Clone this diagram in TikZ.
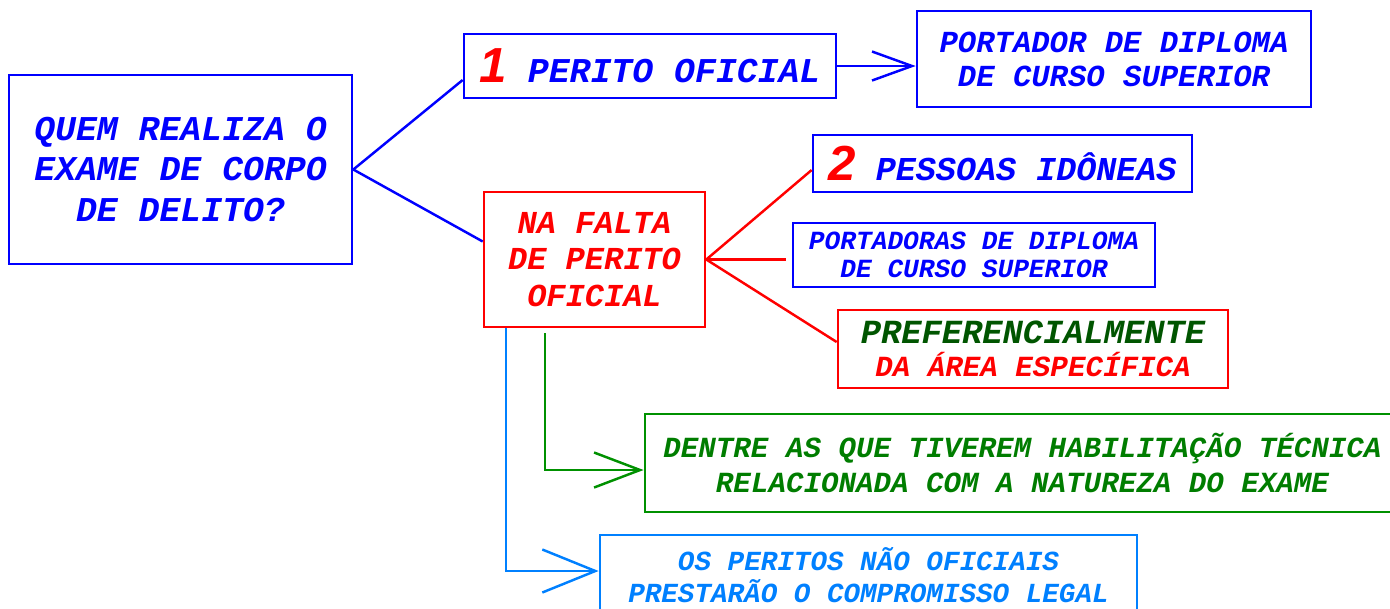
\documentclass[tikz,border=0pt]{standalone}
\usepackage{fontspec}
\usepackage{tikz}
\usepackage{xcolor}
\usetikzlibrary{arrows.meta}
\newfontfamily\cour{Liberation Mono}
\newfontfamily\arial{Liberation Sans}
\newcommand{\letra}{\cour\bfseries\itshape}
\newcommand{\numero}[1]{{\arial\bfseries\itshape\fontsize{14}{14}\selectfont\color{red}#1}}
\definecolor{verdeborda}{RGB}{0,145,0}
\definecolor{verdetexto}{RGB}{0,125,0}
\definecolor{verdeescuro}{RGB}{0,85,0}
\definecolor{celeste}{RGB}{0,128,255}
\tikzstyle{caixa} = [draw, rectangle, line width=0.7pt, align=center, inner sep=0pt]
\tikzstyle{ramo} = [line width=0.7pt]

\begin{document}
\begin{tikzpicture}[x=0.01cm, y=-0.01cm]
        \useasboundingbox (0,0) rectangle (1390,608);
        % pergunta
        \node [caixa, blue, minimum width=3.43cm, minimum height=1.89cm, font=\letra\fontsize{9.9}{11.4}\selectfont] (quem) at (180.5,169.5) {QUEM REALIZA O\\EXAME DE CORPO\\DE DELITO?};
        % primeira resposta
        \node [caixa, blue, minimum width=3.72cm, minimum height=0.64cm, font=\letra\fontsize{9.9}{11.4}\selectfont] (perito1) at (650,66) {\numero{1} PERITO OFICIAL};
        \node [caixa, blue, minimum width=3.94cm, minimum height=0.96cm, font=\letra\fontsize{8.7}{9.7}\selectfont] (portador) at (1114,59) {PORTADOR DE DIPLOMA\\DE CURSO SUPERIOR};
        % na falta
        \node [caixa, red, minimum width=2.21cm, minimum height=1.35cm, font=\letra\fontsize{9.1}{10.4}\selectfont] (falta) at (594.5,259.5) {NA FALTA\\DE PERITO\\OFICIAL};
        % segunda resposta
        \node [caixa, blue, minimum width=3.79cm, minimum height=0.57cm, font=\letra\fontsize{9.5}{11}\selectfont] (pessoas) at (1002.5,163.5) {\numero{2} PESSOAS IDÔNEAS};
        \node [caixa, blue, minimum width=3.62cm, minimum height=0.64cm, font=\letra\fontsize{7.45}{8}\selectfont] (portadoras) at (974,255) {PORTADORAS DE DIPLOMA\\DE CURSO SUPERIOR};
        \node [caixa, draw=red, minimum width=3.90cm, minimum height=0.78cm, font=\letra\fontsize{9.6}{9.4}\selectfont] (pref) at (1033,349) {\textcolor{verdeescuro}{PREFERENCIALMENTE}\\{\color{red}\fontsize{8.3}{9.4}\selectfont DA ÁREA ESPECÍFICA}};
        % habilitacao e compromisso
        \node [caixa, draw=verdeborda, text=verdetexto, minimum width=7.55cm, minimum height=0.98cm, font=\letra\fontsize{8.3}{9.7}\selectfont] (dentre) at (1022.5,463) {DENTRE AS QUE TIVEREM HABILITAÇÃO TÉCNICA\\RELACIONADA COM A NATUREZA DO EXAME};
        \node [caixa, celeste, minimum width=5.37cm, minimum height=0.80cm, font=\letra\fontsize{7.85}{9.1}\selectfont] (peritos) at (868.5,575) {OS PERITOS NÃO OFICIAIS\\PRESTARÃO O COMPROMISSO LEGAL};
        % ligacoes
        \draw [ramo, blue] (quem.east) -- ([yshift=-0.14cm]perito1.west);
        \draw [ramo, blue] (quem.east) -- ([yshift=0.18cm]falta.west);
        \draw [ramo, blue, -{Straight Barb[length=4mm,width=2.9mm]}] (perito1.east) -- (perito1.east -| portador.west);
        \draw [ramo, red] (falta.east) -- ([yshift=-0.065cm]pessoas.west);
        \draw [ramo, red] (falta.east) -- ([xshift=-0.06cm]falta.east -| portadoras.west);
        \draw [ramo, red] (falta.east) -- ([yshift=0.07cm]pref.west);
        \draw [ramo, verdeborda, -{Straight Barb[length=4.6mm,width=3.5mm]}] ([xshift=-0.495cm,yshift=-0.05cm]falta.south) |- ([yshift=-0.07cm]dentre.west);
        \draw [ramo, celeste, -{Straight Barb[length=5.3mm,width=4.3mm]}] ([xshift=-0.885cm]falta.south) |- ([yshift=0.04cm]peritos.west);
    \end{tikzpicture}
\end{document}
